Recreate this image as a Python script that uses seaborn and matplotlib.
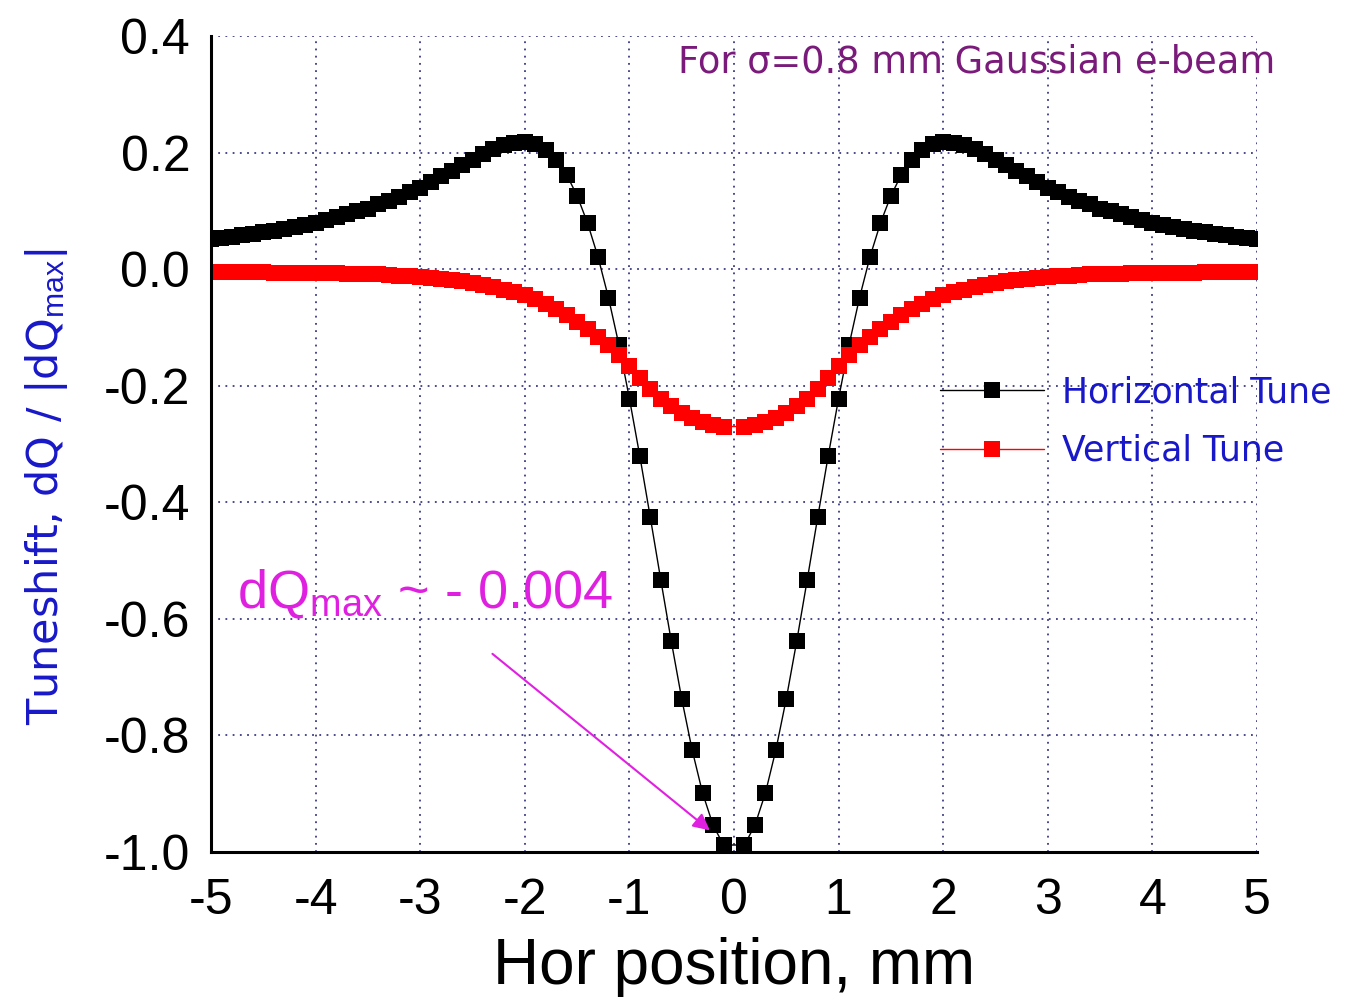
import matplotlib
matplotlib.use("Agg")
import matplotlib.pyplot as plt
import seaborn as sns
import pandas as pd

# --- data (Hor position in mm, tune shift normalised) ---
pos_right = [0.1, 0.2, 0.3, 0.4, 0.5, 0.6, 0.7, 0.8, 0.9, 1.0,
             1.1, 1.2, 1.3, 1.4, 1.5, 1.6, 1.7, 1.8, 1.9, 2.0,
             2.1, 2.2, 2.3, 2.4, 2.5, 2.6, 2.7, 2.8, 2.9, 3.0,
             3.1, 3.2, 3.3, 3.4, 3.5, 3.6, 3.7, 3.8, 3.9, 4.0,
             4.1, 4.2, 4.3, 4.4, 4.5, 4.6, 4.7, 4.8, 4.9, 5.0]
pos_left = [-5.0, -4.9, -4.8, -4.7, -4.6, -4.5, -4.4, -4.3, -4.2, -4.1,
            -4.0, -3.9, -3.8, -3.7, -3.6, -3.5, -3.4, -3.3, -3.2, -3.1,
            -3.0, -2.9, -2.8, -2.7, -2.6, -2.5, -2.4, -2.3, -2.2, -2.1,
            -2.0, -1.9, -1.8, -1.7, -1.6, -1.5, -1.4, -1.3, -1.2, -1.1,
            -1.0, -0.9, -0.8, -0.7, -0.6, -0.5, -0.4, -0.3, -0.2, -0.1]

hor_left = [0.051, 0.053, 0.056, 0.058, 0.060, 0.063, 0.066, 0.069, 0.073, 0.076,
            0.080, 0.084, 0.089, 0.094, 0.099, 0.104, 0.111, 0.117, 0.124, 0.132,
            0.140, 0.149, 0.159, 0.168, 0.178, 0.188, 0.198, 0.206, 0.213, 0.217,
            0.218, 0.214, 0.205, 0.187, 0.162, 0.126, 0.079, 0.021, -0.049, -0.130,
            -0.222, -0.321, -0.426, -0.533, -0.638, -0.737, -0.825, -0.899, -0.954, -0.988]
hor_right = [-0.988, -0.954, -0.899, -0.825, -0.737, -0.638, -0.533, -0.426, -0.321, -0.222,
             -0.130, -0.049, 0.021, 0.079, 0.126, 0.162, 0.187, 0.205, 0.214, 0.218,
             0.217, 0.213, 0.206, 0.198, 0.188, 0.178, 0.168, 0.159, 0.149, 0.140,
             0.132, 0.124, 0.117, 0.111, 0.104, 0.099, 0.094, 0.089, 0.084, 0.080,
             0.076, 0.073, 0.069, 0.066, 0.063, 0.060, 0.058, 0.056, 0.053, 0.051]

ver_left = [-0.005, -0.005, -0.005, -0.005, -0.005, -0.005, -0.006, -0.006, -0.006, -0.006,
            -0.007, -0.007, -0.007, -0.008, -0.008, -0.009, -0.009, -0.010, -0.011, -0.012,
            -0.013, -0.015, -0.017, -0.019, -0.021, -0.024, -0.027, -0.031, -0.035, -0.039,
            -0.045, -0.052, -0.060, -0.069, -0.079, -0.090, -0.102, -0.116, -0.131, -0.148,
            -0.166, -0.186, -0.205, -0.222, -0.235, -0.246, -0.255, -0.262, -0.267, -0.270]
ver_right = [-0.270, -0.267, -0.262, -0.255, -0.246, -0.235, -0.222, -0.205, -0.186, -0.166,
             -0.148, -0.131, -0.116, -0.102, -0.090, -0.079, -0.069, -0.060, -0.052, -0.045,
             -0.039, -0.035, -0.031, -0.027, -0.024, -0.021, -0.019, -0.017, -0.015, -0.013,
             -0.012, -0.011, -0.010, -0.009, -0.009, -0.008, -0.008, -0.007, -0.007, -0.007,
             -0.006, -0.006, -0.006, -0.006, -0.005, -0.005, -0.005, -0.005, -0.005, -0.005]

x_ticks = [-5, -4, -3, -2, -1, 0, 1, 2, 3, 4, 5]
y_ticks = [0.4, 0.2, 0.0, -0.2, -0.4, -0.6, -0.8, -1.0]

# --- style ---
sns.set_style("white")
plt.rcParams["font.family"] = ["Liberation Sans", "DejaVu Sans"]
plt.rcParams["axes.unicode_minus"] = False
plt.rcParams["mathtext.fontset"] = "custom"
plt.rcParams["mathtext.rm"] = "Liberation Sans"
plt.rcParams["mathtext.it"] = "Liberation Sans"

hor = pd.DataFrame({"pos": pos_left + pos_right, "dq": hor_left + hor_right})
ver = pd.DataFrame({"pos": pos_left + pos_right, "dq": ver_left + ver_right})

fig = plt.figure(figsize=(13.49, 10.05), dpi=100)
ax = fig.add_axes([211 / 1349, 1 - 852 / 1005, 1046 / 1349, 816 / 1005])

sns.lineplot(data=hor, x="pos", y="dq", ax=ax, color="black", linewidth=1.0,
             marker="s", markersize=11, markeredgewidth=0, label="Horizontal Tune")
sns.lineplot(data=ver, x="pos", y="dq", ax=ax, color="#ff0000", linewidth=1.0,
             marker="s", markersize=11, markeredgewidth=0, label="Vertical Tune")

ax.set_xlim(-5, 5)
ax.set_ylim(-1.0, 0.4)
ax.set_xticks(x_ticks)
ax.set_xticklabels([str(t) for t in x_ticks])
ax.set_yticks(y_ticks)
ax.set_yticklabels([f"{t:.1f}" for t in y_ticks])
ax.set_xticks([-4.5, -3.5, -2.5, -1.5, -0.5, 0.5, 1.5, 2.5, 3.5, 4.5], minor=True)
ax.set_yticks([0.3, 0.1, -0.1, -0.3, -0.5, -0.7, -0.9], minor=True)
ax.tick_params(axis="both", which="major", direction="out", length=9, width=2,
               labelsize=36, color="black", labelcolor="black")
ax.tick_params(axis="both", which="minor", direction="out", length=5, width=2)
ax.tick_params(axis="x", which="major", pad=10)
ax.tick_params(axis="y", which="major", pad=6)

ax.grid(True, which="major", color="#3a3a85", linestyle=(0, (1, 3)), linewidth=1.3)
sns.despine(ax=ax)
for side in ["left", "bottom"]:
    ax.spines[side].set_linewidth(2.2)
    ax.spines[side].set_color("black")

ax.set_xlabel("Hor position, mm", fontsize=46, labelpad=9, color="black")
ax.set_ylabel(r"Tuneshift, dQ / |dQ$_{\rm max}$|", fontsize=31, color="#1818c8",
              family=["DejaVu Sans"])
ax.yaxis.set_label_coords(-0.135, 0.447)

ax.text(1.017, 0.968, "For σ=0.8 mm Gaussian e-beam", transform=ax.transAxes,
        ha="right", va="center", fontsize=26.5, color="#7a1a7a", family=["DejaVu Sans"])
ax.text(-4.75, -0.58, r"dQ$_{\rm max}$ ~ - 0.004", ha="left", va="baseline",
        fontsize=39, color="#e020e0")
ax.annotate("", xy=(-0.21, -0.966), xytext=(-2.33, -0.657),
            arrowprops=dict(arrowstyle="-|>", color="#e020e0", lw=1.5,
                            mutation_scale=25))

leg = ax.legend(loc="upper left", bbox_to_anchor=(0.697, 0.584), frameon=False,
                handlelength=3.0, handletextpad=0.5, labelspacing=0.7,
                borderpad=0, borderaxespad=0, prop={"family": "DejaVu Sans", "size": 25})
for t in leg.get_texts():
    t.set_color("#1818c8")

fig.savefig("out.png", dpi=100)
